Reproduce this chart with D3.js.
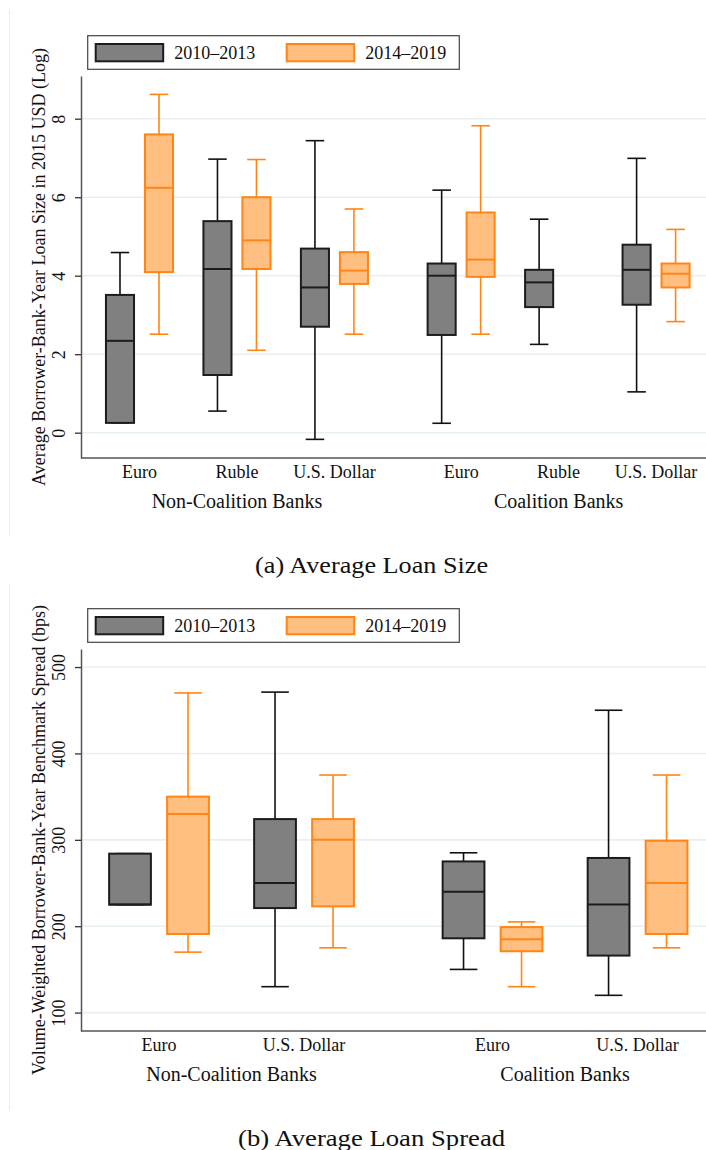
<!DOCTYPE html>
<html>
<head>
<meta charset="utf-8">
<script src="https://cdn.jsdelivr.net/npm/d3@7"></script>
<style>
  html, body { margin: 0; padding: 0; background: #fff; }
  svg { display: block; }
  text { font-family: "Liberation Serif", "Times New Roman", serif; fill: #111; }
</style>
</head>
<body>
<div id="chart"></div>
<script>
// ---- data -------------------------------------------------------------
// Box statistics are [lower adjacent, Q1, median, Q3, upper adjacent].
const periods = ["2010–2013", "2014–2019"];
const bankGroups = ["Non-Coalition Banks", "Coalition Banks"];

// Panel (a): average loan size, log of 2015 USD
const sizeCurrencies = ["Euro", "Ruble", "U.S. Dollar"];
const sizeTicks = [0, 2, 4, 6, 8];
// order: Non-Coalition Euro, Ruble, U.S. Dollar, Coalition Euro, Ruble, U.S. Dollar
const size2010 = [
  [0.25, 0.25, 2.34, 3.51, 4.59],
  [0.55, 1.47, 4.17, 5.39, 6.97],
  [-0.17, 2.70, 3.70, 4.69, 7.44],
  [0.24, 2.49, 4.00, 4.31, 6.18],
  [2.25, 3.20, 3.83, 4.15, 5.44],
  [1.04, 3.26, 4.15, 4.79, 6.99]
];
const size2014 = [
  [2.51, 4.09, 6.24, 7.60, 8.62],
  [2.10, 4.17, 4.90, 6.00, 6.96],
  [2.51, 3.79, 4.13, 4.60, 5.70],
  [2.51, 3.97, 4.41, 5.61, 7.82],
  null,
  [2.83, 3.70, 4.05, 4.31, 5.18]
];

// Panel (b): volume-weighted benchmark spread, bps
const spreadCurrencies = ["Euro", "U.S. Dollar"];
const spreadTicks = [100, 200, 300, 400, 500];
// order: Non-Coalition Euro, U.S. Dollar, Coalition Euro, U.S. Dollar
const spread2010 = [
  [225, 225, 225, 284, 284],
  [130, 221, 250, 324, 471],
  [150, 186, 240, 275, 285],
  [120, 166, 225, 279, 450]
];
const spread2014 = [
  [170, 191, 330, 350, 470],
  [175, 223, 300, 324, 375],
  [130, 171, 185, 199, 205],
  [175, 191, 250, 299, 375]
];

// ---- styling ------------------------------------------------------------
const W = 706, H = 1150;
const styles = [
  { fill: "#808080", stroke: "#1c1c1c", whisker: "#111" },
  { fill: "#ffbf80", stroke: "#ff8516", whisker: "#ff8516" }
];

const svg = d3.select("#chart").append("svg")
  .attr("width", W).attr("height", H);

// faint frame edges on the left of each panel
[[10, 536], [584, 1110]].forEach(([a, b]) => {
  svg.append("line").attr("x1", 9.5).attr("x2", 9.5).attr("y1", a).attr("y2", b)
    .attr("stroke", "#ebebeb").attr("stroke-width", 1);
});

function drawPanel(opts) {
  const g = svg.append("g").attr("transform", `translate(0,${opts.dy})`);
  const plotL = 81, plotR = 706, plotT = 76, plotB = 458;

  const y = d3.scaleLinear().domain(opts.yDomain).range([plotB, plotT]);
  const x = d3.scaleLinear().domain(opts.xDomain).range([plotL, plotR]);

  // slot layout: two period slots per currency, half-slot gap between
  // currencies, extra gap between bank groups
  const boxes = [], pairs = [], groups = [];
  let pos = 0, k = 0;
  opts.groups.forEach((grp, gi) => {
    const firstPair = pairs.length;
    opts.currencies.forEach((cur) => {
      pairs.push({ label: cur, center: pos + 0.5 });
      opts.series.forEach((ser, pi) => {
        if (ser[k]) boxes.push({ slot: pos + pi, stats: ser[k], period: pi });
      });
      pos += 2.5;
      k++;
    });
    groups.push({ label: grp, center: (pairs[firstPair].center + pairs[pairs.length - 1].center) / 2 });
    pos += 0.75;
  });

  // gridlines
  g.append("g").selectAll("line").data(opts.ticks).join("line")
    .attr("x1", plotL).attr("x2", plotR)
    .attr("y1", d => y(d)).attr("y2", d => y(d))
    .attr("stroke", "#e8eff2").attr("stroke-width", 1.6);

  const bw = x(0.72) - x(0);
  const cw = bw * 0.66;

  const bg = g.append("g").selectAll("g").data(boxes).join("g")
    .attr("transform", d => `translate(${x(d.slot)},0)`);

  // whiskers and caps
  bg.each(function (d) {
    const s = styles[d.period], [lo, q1, md, q3, hi] = d.stats;
    const sel = d3.select(this);
    [[q3, hi], [q1, lo]].forEach(([a, b]) => {
      sel.append("line").attr("x1", 0).attr("x2", 0)
        .attr("y1", y(a)).attr("y2", y(b))
        .attr("stroke", s.whisker).attr("stroke-width", 1.6);
      sel.append("line").attr("x1", -cw / 2).attr("x2", cw / 2)
        .attr("y1", y(b)).attr("y2", y(b))
        .attr("stroke", s.whisker).attr("stroke-width", 1.6);
    });
    sel.append("rect")
      .attr("x", -bw / 2).attr("width", bw)
      .attr("y", y(q3)).attr("height", Math.max(0, y(q1) - y(q3)))
      .attr("fill", s.fill).attr("stroke", s.stroke).attr("stroke-width", 2);
    sel.append("line").attr("x1", -bw / 2).attr("x2", bw / 2)
      .attr("y1", y(md)).attr("y2", y(md))
      .attr("stroke", s.stroke).attr("stroke-width", 2);
  });

  // y axis
  const ya = g.append("g").attr("transform", `translate(${plotL},0)`)
    .call(d3.axisLeft(y).tickValues(opts.ticks).tickSize(6).tickSizeOuter(0).tickFormat(d3.format("d")));
  ya.select(".domain").attr("stroke", "#555").attr("stroke-width", 1.5);
  ya.selectAll(".tick line").attr("stroke", "#333").attr("stroke-width", 1.3);
  ya.selectAll(".tick text")
    .attr("transform", "rotate(-90)")
    .attr("x", 0).attr("y", -16).attr("dy", 0)
    .attr("text-anchor", "middle")
    .style("font-family", "Liberation Serif").style("font-size", "18px").attr("fill", "#111");

  // x axis line
  g.append("line").attr("x1", plotL).attr("x2", plotR)
    .attr("y1", plotB).attr("y2", plotB)
    .attr("stroke", "#555").attr("stroke-width", 1.5);

  // category labels
  g.append("g").selectAll("text").data(pairs).join("text")
    .attr("x", d => x(d.center)).attr("y", 478)
    .attr("text-anchor", "middle").style("font-size", "18px")
    .text(d => d.label);
  g.append("g").selectAll("text").data(groups).join("text")
    .attr("x", d => x(d.center)).attr("y", 508)
    .attr("text-anchor", "middle").style("font-size", "20px")
    .text(d => d.label);

  // y title
  g.append("text")
    .attr("transform", `translate(45,${(plotT + plotB) / 2}) rotate(-90)`)
    .attr("text-anchor", "middle").style("font-size", "18px")
    .text(opts.yTitle);

  // legend
  const lg = g.append("g");
  lg.append("rect").attr("x", 87.7).attr("y", 35.7).attr("width", 371.6).attr("height", 33.6)
    .attr("fill", "#fff").attr("stroke", "#444").attr("stroke-width", 1.2);
  const keyX = [95.7, 286.7];
  periods.forEach((p, i) => {
    lg.append("rect").attr("x", keyX[i]).attr("y", 44).attr("width", 67.5).attr("height", 17.3)
      .attr("fill", styles[i].fill).attr("stroke", styles[i].stroke).attr("stroke-width", 2);
    lg.append("text").attr("x", keyX[i] + 78.5).attr("y", 59.3)
      .style("font-size", "18px").text(p);
  });

  // caption
  g.append("text").attr("x", 371.6).attr("y", 573)
    .attr("text-anchor", "middle").style("font-size", "23px")
    .attr("textLength", opts.captionWidth).attr("lengthAdjust", "spacingAndGlyphs")
    .text(opts.caption);
}

drawPanel({
  dy: 0,
  groups: bankGroups,
  currencies: sizeCurrencies,
  series: [size2010, size2014],
  ticks: sizeTicks,
  yDomain: [-0.645, 9.088],
  xDomain: [-1, 15.03],
  yTitle: "Average Borrower-Bank-Year Loan Size in 2015 USD (Log)",
  caption: "(a) Average Loan Size",
  captionWidth: 233
});

drawPanel({
  dy: 573,
  groups: bankGroups,
  currencies: spreadCurrencies,
  series: [spread2010, spread2014],
  ticks: spreadTicks,
  yDomain: [78.7, 520.9],
  xDomain: [-0.845, 9.93],
  yTitle: "Volume-Weighted Borrower-Bank-Year Benchmark Spread (bps)",
  caption: "(b) Average Loan Spread",
  captionWidth: 267
});
</script>
</body>
</html>
